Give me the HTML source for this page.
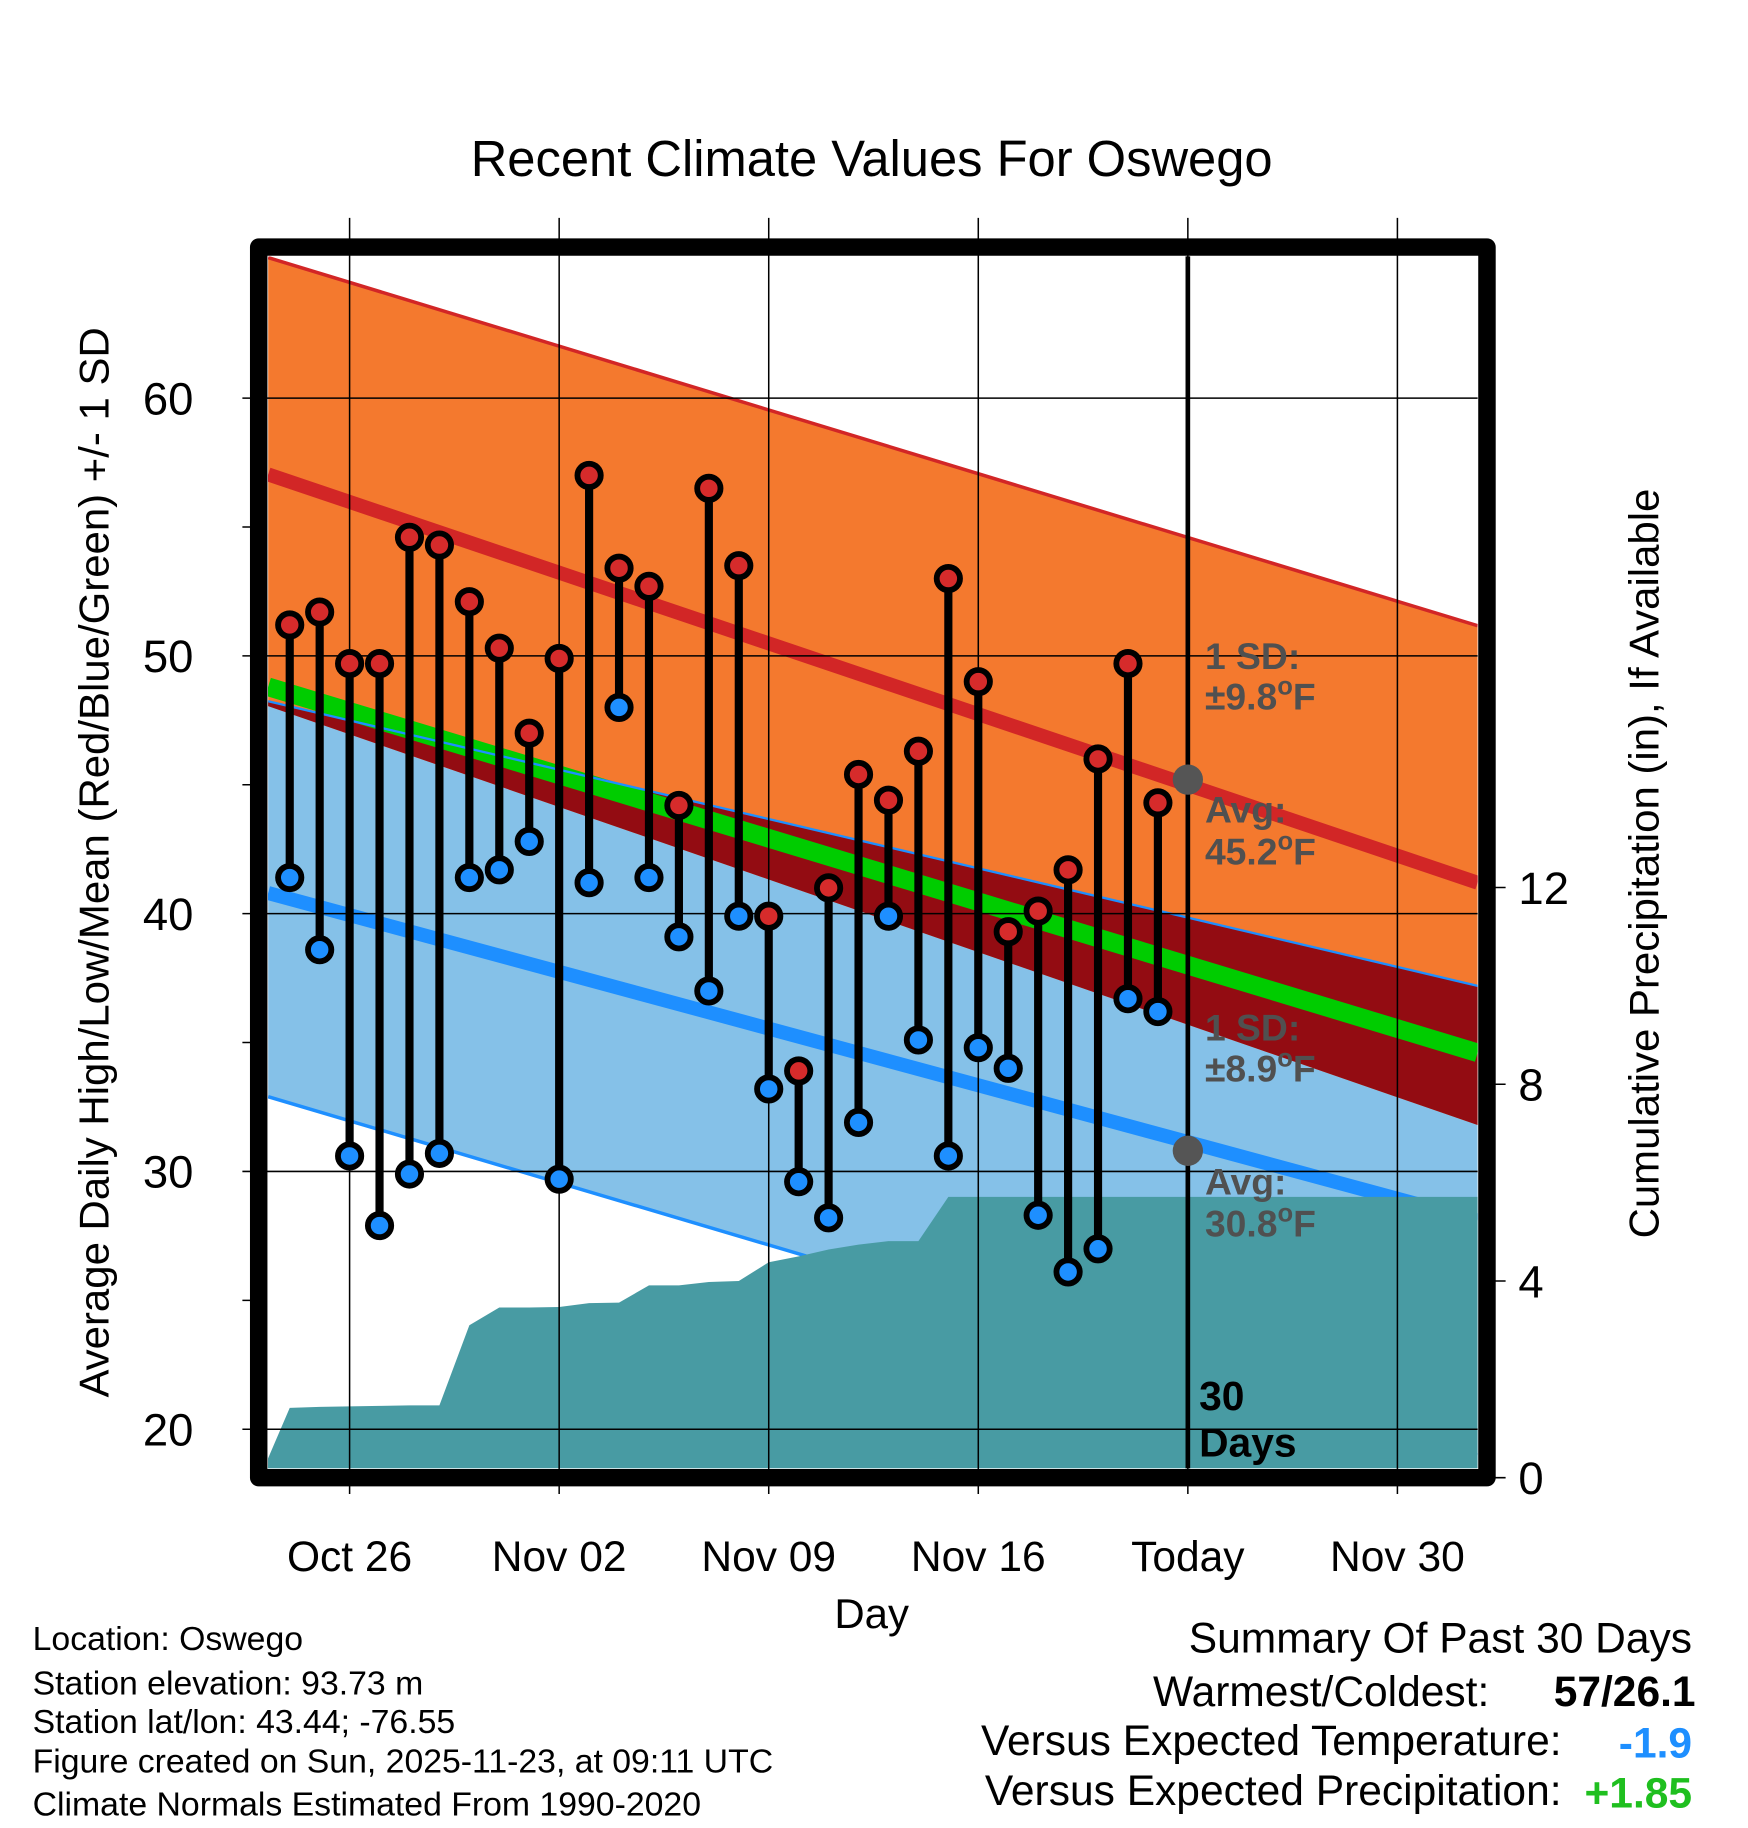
<!DOCTYPE html>
<html><head><meta charset="utf-8"><style>
html,body{margin:0;padding:0;background:#fff;}
svg{display:block;font-family:"Liberation Sans",Arial,sans-serif;}
</style></head><body>
<svg id="chart" width="1748" height="1828" viewBox="0 0 1500 1568.6" preserveAspectRatio="none" xmlns="http://www.w3.org/2000/svg">
<text x="748" y="151" font-size="43.5" text-anchor="middle">Recent Climate Values For Oswego</text>
<g id="plot"></g>
<text transform="translate(93,740) rotate(-90)" font-size="36" text-anchor="middle">Average Daily High/Low/Mean (Red/Blue/Green) +/- 1 SD</text>
<text transform="translate(1423,741) rotate(-90)" font-size="36" text-anchor="middle">Cumulative Precipitation (in), If Available</text>
<text x="748" y="1397" font-size="36" text-anchor="middle">Day</text>
<g font-size="29">
<text x="28" y="1416">Location: Oswego</text>
<text x="28" y="1454">Station elevation: 93.73 m</text>
<text x="28" y="1487">Station lat/lon: 43.44; -76.55</text>
<text x="28" y="1521">Figure created on Sun, 2025-11-23, at 09:11 UTC</text>
<text x="28" y="1558">Climate Normals Estimated From 1990-2020</text>
</g>
<g font-size="36.5" text-anchor="end">
<text x="1452" y="1418">Summary Of Past 30 Days</text>
<text x="1278" y="1464">Warmest/Coldest:</text>
<text x="1455" y="1464" font-weight="bold">57/26.1</text>
<text x="1340" y="1506">Versus Expected Temperature:</text>
<text x="1452" y="1508" font-weight="bold" fill="#1e8fff">-1.9</text>
<text x="1340" y="1549">Versus Expected Precipitation:</text>
<text x="1452" y="1551" font-weight="bold" fill="#1fbf1f">+1.85</text>
</g>
</svg>
<script>
const days = [-2,-1,0,1,2,3,4,5,6,7,8,9,10,11,12,13,14,15,16,17,18,19,20,21,22,23,24,25,26,27];
const highs = [51.2,51.7,49.7,49.7,54.6,54.3,52.1,50.3,47.0,49.9,57.0,53.4,52.7,44.2,56.5,53.5,39.9,33.9,41.0,45.4,44.4,46.3,53.0,49.0,39.3,40.1,41.7,46.0,49.7,44.3];
const lows = [41.4,38.6,30.6,27.9,29.9,30.7,41.4,41.7,42.8,29.7,41.2,48.0,41.4,39.1,37.0,39.9,33.2,29.6,28.2,31.9,39.9,35.1,30.6,34.8,34.0,28.3,26.1,27.0,36.7,36.2];
const precipDays = [-3,-2,-1,0,1,2,3,4,5,6,7,8,9,10,11,12,13,14,15,16,17,18,19,20,27];
const precip = [0,1.42,1.44,1.45,1.46,1.47,1.47,3.10,3.46,3.46,3.47,3.55,3.56,3.91,3.91,3.98,4.00,4.38,4.50,4.64,4.74,4.81,4.81,5.71,5.71];
// normals at left edge / right edge of plot
const edgeDays = [-2.72, 37.68];
const highUpper = [65.45,51.17];
const highMean = [57.04,41.2];
const highLower = [48.05,31.8];
const lowUpper = [48.24,37.2];
const meanAvg = [48.8,34.6];
const lowMean = [40.8,28.1];
const lowLower = [32.9,19.0];
const xTicks = [0,7,14,21,28,35];
const xTickLabels = ["Oct 26","Nov 02","Nov 09","Nov 16","Today","Nov 30"];
const yTicks = [20,30,40,50,60];
const yMinor = [25,35,45,55];
const pTicks = [0,4,8,12];
const todayDay = 28;
const todayMeans = [45.2,30.8];

const X = d => 300 + d*25.69;
const Y = v => 784 - (v-40)*22.12;
const P = p => 1268 - p*42.2;
const NS = "http://www.w3.org/2000/svg";
const g = document.getElementById('plot');
function mk(tag, attrs, parent){const e=document.createElementNS(NS,tag);for(const k in attrs)e.setAttribute(k,attrs[k]);(parent||g).appendChild(e);return e;}
const L=230,R=1268,T=220,B=1260;
const clip = mk('clipPath',{id:'pc'}); mk('rect',{x:L,y:T,width:R-L,height:B-T},clip);
const inner = mk('g',{'clip-path':'url(#pc)'});
function band(a,b,fill,name){const p=mk('polygon',{points:`${X(edgeDays[0])},${Y(a[0])} ${X(edgeDays[1])},${Y(a[1])} ${X(edgeDays[1])},${Y(b[1])} ${X(edgeDays[0])},${Y(b[0])}`,fill:fill},inner);}
function line(a,stroke,w,name){const p=mk('line',{x1:X(edgeDays[0]),y1:Y(a[0]),x2:X(edgeDays[1]),y2:Y(a[1]),stroke:stroke,'stroke-width':w},inner);}
band(lowUpper,lowLower,'#85c1e8','low-sd-band');
band(highUpper,highLower,'#f4792e','high-sd-band');
band(lowUpper,highLower,'#930c12','overlap-band');
line(meanAvg,'#00cc00',16,'mean-line');
line(lowUpper,'#1e8fff',2,'low-upper-line');
line(highUpper,'#d22626',3,'high-upper-line');
line(lowLower,'#1e8fff',3,'low-lower-line');
line(highMean,'#d22626',12,'high-mean-line');
line(lowMean,'#1e8fff',12,'low-mean-line');
// precipitation
let pts=[];precipDays.forEach((d,i)=>pts.push(`${X(d)},${P(precip[i])}`));
pts.push(`${R},${P(precip[precip.length-1])}`,`${R},${B}`,`${X(precipDays[0])},${B}`);
const pa=mk('polygon',{points:pts.join(' '),fill:'#489ba3'},inner);

// grid
xTicks.forEach((d,i)=>{const l=mk('line',{x1:X(d),y1:187,x2:X(d),y2:1282,stroke:'#000','stroke-width':1.3});
const t=mk('text',{x:X(d),y:1348,'font-size':36.5,'text-anchor':'middle'});t.textContent=xTickLabels[i];});
yTicks.forEach(v=>{const l=mk('line',{x1:208,y1:Y(v),x2:R,y2:Y(v),stroke:'#000','stroke-width':1.3});
const t=mk('text',{x:166,y:Y(v)+14,'font-size':39,'text-anchor':'end'});t.textContent=v;});
yMinor.forEach(v=>{const l=mk('line',{x1:208,y1:Y(v),x2:222,y2:Y(v),stroke:'#000','stroke-width':1.3});});
pTicks.forEach(p=>{const l=mk('line',{x1:1276,y1:P(p),x2:1292,y2:P(p),stroke:'#000','stroke-width':1.3});
const t=mk('text',{x:1303,y:P(p)+14,'font-size':39});t.textContent=p;});
// today line
const tl=mk('line',{x1:X(todayDay),y1:T,x2:X(todayDay),y2:B,stroke:'#000','stroke-width':4});

todayMeans.forEach(v=>{const c=mk('circle',{cx:X(todayDay),cy:Y(v),r:13,fill:'#555'});});
// daily obs
days.forEach((d,i)=>{
const l=mk('line',{x1:X(d),y1:Y(highs[i]),x2:X(d),y2:Y(lows[i]),stroke:'#000','stroke-width':7});

const h=mk('circle',{cx:X(d),cy:Y(highs[i]),r:10,fill:'#d62b2b',stroke:'#000','stroke-width':5});

const w=mk('circle',{cx:X(d),cy:Y(lows[i]),r:10,fill:'#1e8fff',stroke:'#000','stroke-width':5});

});
// annotations
const ann=[["1 SD:",574],["±9.8°F",609],["Avg:",706],["45.2°F",742],["1 SD:",893],["±8.9°F",928],["Avg:",1025],["30.8°F",1061]];
ann.forEach(a=>{const t=mk('text',{x:1034,y:a[1],'font-size':32,'font-weight':'bold',fill:'#505050'});
t.textContent=a[0];
if(a[0].indexOf('°')>=0){t.textContent='';const s=a[0].split('°');t.appendChild(document.createTextNode(s[0]));const sp=mk('tspan',{dy:-13,'font-size':22},t);sp.textContent='o';const sp2=mk('tspan',{dy:13},t);sp2.textContent='F';}
});
[["30",1210],["Days",1250]].forEach(a=>{const t=mk('text',{x:1029,y:a[1],'font-size':35,'font-weight':'bold'});t.textContent=a[0];});
// frame
const fr=mk('rect',{x:222,y:212,width:1054,height:1056,fill:'none',stroke:'#000','stroke-width':15,'stroke-linejoin':'round'});

</script>
</body></html>
